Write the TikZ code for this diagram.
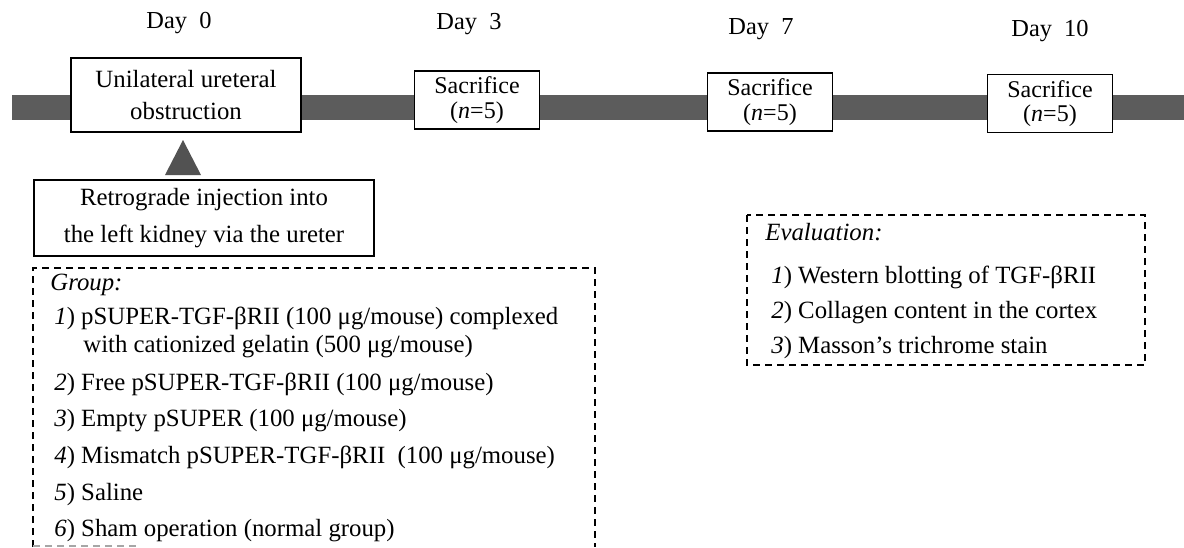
\documentclass[tikz,border=0pt]{standalone}
\usepackage{fontspec}
\setmainfont{Liberation Serif}
\begin{document}
\begin{tikzpicture}[x=0.5pt,y=-0.5pt,
  txt/.style={font=\fontsize{12.4}{14}\selectfont, inner sep=0pt, anchor=base west},
  daylbl/.style={font=\fontsize{12.2}{14}\selectfont, inner sep=0pt},
  solidbox/.style={draw=black, line width=0.75pt, fill=white, align=center, inner sep=0pt},
  sacbox/.style={solidbox, minimum width=62.5pt, minimum height=29pt, font=\fontsize{12}{12.4}\selectfont},
  dashbox/.style={draw=black, line width=1pt, dash pattern=on 3.5pt off 2.5pt},
  barfill/.style={fill=black!64},
  trifill/.style={fill=black!68}]
\useasboundingbox (0,0) rectangle (1184,547);
% timeline bar
\fill[barfill] (12,95) rectangle (1184,120);
% day labels
\node[daylbl] (d0) at (179,23) {Day~~0};
\node[daylbl] (d3) at (469,24) {Day~~3};
\node[daylbl] (d7) at (761,29) {Day~~7};
\node[daylbl] (d10) at (1050,31) {Day~~10};
% boxes on timeline
\node[solidbox, minimum width=115pt, minimum height=37pt, font=\fontsize{12.4}{16}\selectfont] (uuo) at (186,95) {Unilateral ureteral\\obstruction};
\node[sacbox] (s3) at (477,100) {Sacrifice\\(\textit{n}=5)};
\node[sacbox] (s7) at (770,102) {Sacrifice\\(\textit{n}=5)};
\node[sacbox] (s10) at (1050,103.5) {Sacrifice\\(\textit{n}=5)};
% triangle
\coordinate (tapex) at (183,140);
\fill[trifill] (tapex) -- (201,175) -- (165,175) -- cycle;
% retrograde box
\node[solidbox, minimum width=170pt, minimum height=38pt, font=\fontsize{12.4}{18.5}\selectfont] (retro) at (204,218) {Retrograde injection into\\the left kidney via the ureter};
% group box
\draw[dashbox] (33,547) -- (33,268) -- (595,268) -- (595,547);
\draw[dashbox, draw=black!35] (33,546) -- (140,546);
\node[txt] (g0) at (50,290) {\textit{Group:}};
\node[txt] (g1) at (54,324) {\textit{1}) pSUPER-TGF-βRII (100 μg/mouse) complexed};
\node[txt] (g1b) at (83,352) {with cationized gelatin (500 μg/mouse)};
\node[txt] (g2) at (54,390) {\textit{2}) Free pSUPER-TGF-βRII (100 μg/mouse)};
\node[txt] (g3) at (54,426) {\textit{3}) Empty pSUPER (100 μg/mouse)};
\node[txt] (g4) at (54,463) {\textit{4}) Mismatch pSUPER-TGF-βRII~ (100 μg/mouse)};
\node[txt] (g5) at (54,500) {\textit{5}) Saline};
\node[txt] (g6) at (54,536) {\textit{6}) Sham operation (normal group)};
% evaluation box
\draw[dashbox] (747,215) rectangle (1145,365);
\node[txt] (e0) at (765,240) {\textit{Evaluation:}};
\node[txt] (e1) at (771,283) {\textit{1}) Western blotting of TGF-βRII};
\node[txt] (e2) at (771,318) {\textit{2}) Collagen content in the cortex};
\node[txt] (e3) at (771,353) {\textit{3}) Masson’s trichrome stain};
\end{tikzpicture}
\end{document}
